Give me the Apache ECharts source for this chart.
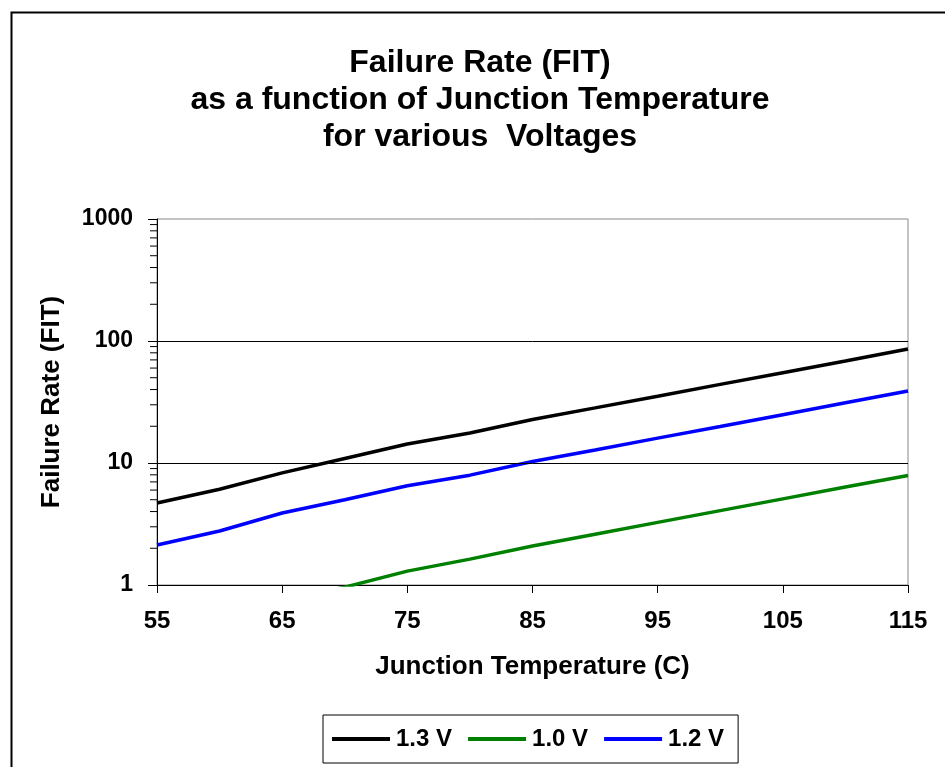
<!DOCTYPE html>
<html>
<head>
<meta charset="utf-8">
<title>Failure Rate (FIT)</title>
<script src="https://cdn.jsdelivr.net/npm/echarts@6/dist/echarts.min.js"></script>
<style>
  html, body { margin: 0; padding: 0; background: #fff; }
  #main { width: 945px; height: 767px; }
</style>
</head>
<body>
<div id="main"></div>
<script>
// junction temperature (C)
var temps = [55, 60, 65, 70, 75, 80, 85, 90, 95, 100, 105, 110, 115];
// failure rate (FIT) per voltage
var fit13 = [4.7, 6.1, 8.3, 10.9, 14.3, 17.6, 22.7, 28.3, 35.3, 44.1, 55.0, 68.5, 86.0];
var fit10 = [0.42, 0.55, 0.76, 0.96, 1.30, 1.63, 2.09, 2.61, 3.26, 4.07, 5.08, 6.35, 7.9];
var fit12 = [2.13, 2.77, 3.89, 5.0, 6.5, 7.95, 10.3, 12.8, 16.0, 19.9, 24.9, 31.2, 38.9];
var seriesNames = ["1.3 V", "1.0 V", "1.2 V"];
// minor ticks on the log axis
var minorTicks = [2, 3, 4, 5, 6, 7, 8, 9, 20, 30, 40, 50, 60, 70, 80, 90, 200, 300, 400, 500, 600, 700, 800, 900];
var gridValues = [10, 100];

var font = "'Liberation Sans', Arial, sans-serif";

function pairs(ys) {
  return temps.map(function (t, i) { return [t, ys[i]]; });
}

function lineSeries(name, ys, color) {
  return {
    name: name,
    type: "line",
    data: pairs(ys),
    symbol: "none",
    clip: true,
    z: 3,
    lineStyle: { color: color, width: 3.5 },
    itemStyle: { color: color },
  };
}

var chartMain = echarts.init(document.getElementById("main"));
var option = {
  animation: false,
  backgroundColor: "#fff",
  textStyle: { fontFamily: font },
  title: {
    text: "Failure Rate (FIT)\nas a function of Junction Temperature\nfor various  Voltages",
    left: 475,
    top: 40,
    textAlign: "center",
    textStyle: {
      fontFamily: font,
      fontSize: 32,
      fontWeight: "bold",
      lineHeight: 37,
      color: "#000",
    },
  },
  graphic: [
    {
      type: "rect",
      left: 9,
      top: 10,
      shape: { width: 1000, height: 1000 },
      style: { fill: null, stroke: "#000", lineWidth: 2 },
      silent: true,
    },
  ],
  legend: {
    data: seriesNames,
    left: 323,
    top: 715,
    padding: [12, 14, 12, 9],
    borderColor: "#000",
    borderWidth: 1,
    icon: "rect",
    itemWidth: 58,
    itemHeight: 4,
    itemGap: 16,
    textStyle: { fontFamily: font, fontSize: 24, fontWeight: "bold", color: "#000", padding: [0, 0, 0, 1] },
  },
  grid: {
    left: 157,
    right: 37,
    top: 219,
    bottom: 182,
    show: true,
    borderColor: "#888",
    borderWidth: 1,
    backgroundColor: "#fff",
  },
  xAxis: {
    type: "value",
    min: 55,
    max: 115,
    interval: 10,
    name: "Junction Temperature (C)",
    nameLocation: "middle",
    nameGap: 69,
    nameTextStyle: { fontFamily: font, fontSize: 26, fontWeight: "bold", color: "#000" },
    axisLine: { show: true, lineStyle: { color: "#000", width: 1 } },
    axisTick: { show: true, length: 8, lineStyle: { color: "#000" } },
    axisLabel: { fontFamily: font, fontSize: 24, fontWeight: "bold", color: "#000", margin: 24 },
    splitLine: { show: false },
  },
  yAxis: {
    type: "log",
    logBase: 10,
    min: 1,
    max: 1000,
    name: "Failure Rate (FIT)",
    nameLocation: "middle",
    nameGap: 92,
    nameTextStyle: { fontFamily: font, fontSize: 26, fontWeight: "bold", color: "#000" },
    axisLine: { show: true, lineStyle: { color: "#000", width: 1 } },
    axisTick: { show: true, length: 9, lineStyle: { color: "#000" } },
    axisLabel: {
      fontFamily: font,
      fontSize: 23,
      fontWeight: "bold",
      color: "#000",
      margin: 24,
      formatter: function (v) { return String(Math.round(v)); },
    },
    splitLine: { show: false },
  },
  series: [
    lineSeries(seriesNames[0], fit13, "#000000"),
    lineSeries(seriesNames[1], fit10, "#008000"),
    lineSeries(seriesNames[2], fit12, "#0000ff"),
    {
      // gridlines at 10 and 100
      type: "line",
      data: [],
      silent: true,
      markLine: {
        silent: true,
        symbol: "none",
        label: { show: false },
        lineStyle: { color: "#000", width: 1, type: "solid" },
        data: gridValues.map(function (v) { return { yAxis: v }; }),
      },
      z: 1,
    },
    {
      // minor ticks left of the y axis
      type: "custom",
      silent: true,
      clip: false,
      data: minorTicks.map(function (v) { return [55, v]; }),
      renderItem: function (params, api) {
        var p = api.coord([api.value(0), api.value(1)]);
        return {
          type: "line",
          shape: { x1: p[0] - 7, y1: p[1], x2: p[0], y2: p[1] },
          style: { stroke: "#000", lineWidth: 1 },
        };
      },
      z: 2,
    },
  ],
};
chartMain && chartMain.setOption(option);
</script>
</body>
</html>
